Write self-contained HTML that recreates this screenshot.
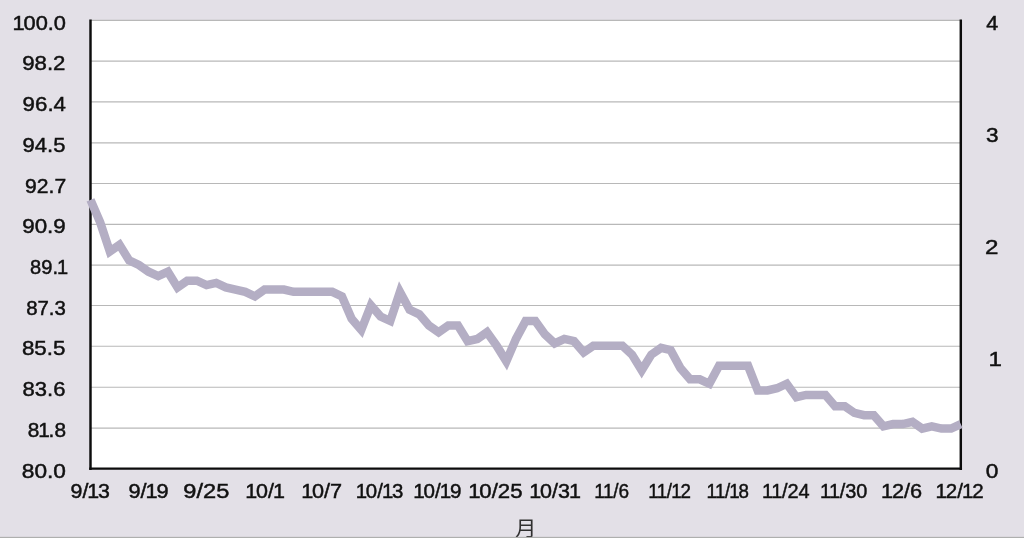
<!DOCTYPE html>
<html lang="ja"><head><meta charset="utf-8"><title>chart</title>
<style>
html,body{margin:0;padding:0;background:#e3e0e7;overflow:hidden}
body{width:1024px;height:538px;position:relative}
svg{display:block;position:absolute;left:0;top:0}
text{font-family:"Liberation Sans","Noto Sans CJK JP",sans-serif;font-size:21.0px;fill:#111111;stroke:#111111;stroke-width:0.48px}
</style></head><body>
<svg width="1024" height="538" viewBox="0 0 1024 538">
<rect x="0" y="0" width="1024" height="538" fill="#e3e0e7"/>
<rect x="90.5" y="20.3" width="870.3" height="448.34999999999997" fill="#ffffff"/>
<line x1="90.5" x2="960.8" y1="20.40" y2="20.40" stroke="#b8b8b8" stroke-width="1.15"/>
<line x1="90.5" x2="960.8" y1="61.15" y2="61.15" stroke="#b8b8b8" stroke-width="1.15"/>
<line x1="90.5" x2="960.8" y1="101.90" y2="101.90" stroke="#b8b8b8" stroke-width="1.15"/>
<line x1="90.5" x2="960.8" y1="142.90" y2="142.90" stroke="#b8b8b8" stroke-width="1.15"/>
<line x1="90.5" x2="960.8" y1="183.50" y2="183.50" stroke="#b8b8b8" stroke-width="1.15"/>
<line x1="90.5" x2="960.8" y1="224.40" y2="224.40" stroke="#b8b8b8" stroke-width="1.15"/>
<line x1="90.5" x2="960.8" y1="265.05" y2="265.05" stroke="#b8b8b8" stroke-width="1.15"/>
<line x1="90.5" x2="960.8" y1="305.50" y2="305.50" stroke="#b8b8b8" stroke-width="1.15"/>
<line x1="90.5" x2="960.8" y1="346.20" y2="346.20" stroke="#b8b8b8" stroke-width="1.15"/>
<line x1="90.5" x2="960.8" y1="387.25" y2="387.25" stroke="#b8b8b8" stroke-width="1.15"/>
<line x1="90.5" x2="960.8" y1="428.10" y2="428.10" stroke="#b8b8b8" stroke-width="1.15"/>
<path d="M90.5 19.400000000000002 V469.9 M960.8 19.400000000000002 V469.9" fill="none" stroke="#0c0c0c" stroke-width="2.45"/><path d="M89.28 468.65 H962.02" fill="none" stroke="#0c0c0c" stroke-width="2.4"/>
<polyline fill="none" stroke="#b4aec4" stroke-width="8.5" stroke-linejoin="miter" stroke-miterlimit="10" points="90.50,199.94 100.17,222.36 109.84,251.50 119.51,244.77 129.18,260.47 138.85,264.95 148.52,271.68 158.19,276.16 167.86,271.68 177.53,287.37 187.20,280.64 196.87,280.64 206.54,285.13 216.21,282.88 225.88,287.37 235.55,289.61 245.22,291.85 254.89,296.34 264.56,289.61 274.23,289.61 283.90,289.61 293.57,291.85 303.24,291.85 312.91,291.85 322.58,291.85 332.25,291.85 341.92,296.34 351.59,318.75 361.26,329.96 370.93,305.30 380.60,316.51 390.27,320.99 399.94,291.85 409.61,309.79 419.28,314.27 428.95,325.48 438.62,332.20 448.29,325.48 457.96,325.48 467.63,341.17 477.30,338.93 486.97,332.20 496.64,345.65 506.31,361.35 515.98,338.93 525.65,320.99 535.32,320.99 544.99,334.44 554.66,343.41 564.33,338.93 574.00,341.17 583.67,352.38 593.34,345.65 603.01,345.65 612.68,345.65 622.35,345.65 632.02,354.62 641.69,370.31 651.36,354.62 661.03,347.90 670.70,350.14 680.37,368.07 690.04,379.28 699.71,379.28 709.38,383.76 719.05,365.83 728.72,365.83 738.39,365.83 748.06,365.83 757.73,390.49 767.40,390.49 777.07,388.25 786.74,383.76 796.41,397.21 806.08,394.97 815.75,394.97 825.42,394.97 835.09,406.18 844.76,406.18 854.43,412.91 864.10,415.15 873.77,415.15 883.44,426.36 893.11,424.11 902.78,424.11 912.45,421.87 922.12,428.60 931.79,426.36 941.46,428.60 951.13,428.60 960.80,424.11"/>
<text transform="translate(13.64,29.70) scale(1.0404,1)" x="0" y="0" dx="-1 -1.2 0 0 0">100.0</text>
<text transform="translate(22.21,70.41) scale(1.0573,1)" x="0" y="0">98.2</text>
<text transform="translate(22.60,111.12) scale(1.0616,1)" x="0" y="0">96.4</text>
<text transform="translate(22.61,151.84) scale(1.0481,1)" x="0" y="0">94.5</text>
<text transform="translate(25.05,192.55) scale(1.0064,1)" x="0" y="0">92.7</text>
<text transform="translate(22.20,233.26) scale(1.0650,1)" x="0" y="0">90.9</text>
<text transform="translate(30.08,273.97) scale(0.9556,1)" x="0" y="0" dx="0 0 0 -1">89.1</text>
<text transform="translate(26.17,314.69) scale(0.9722,1)" x="0" y="0">87.3</text>
<text transform="translate(21.90,355.40) scale(1.0658,1)" x="0" y="0">85.5</text>
<text transform="translate(22.61,396.11) scale(1.0481,1)" x="0" y="0">83.6</text>
<text transform="translate(27.66,436.82) scale(0.9906,1)" x="0" y="0" dx="0 -1 -1.2 0">81.8</text>
<text transform="translate(21.79,477.54) scale(1.0810,1)" x="0" y="0">80.0</text>
<text transform="translate(986.14,29.70) scale(1.0273,1)" x="0" y="0">4</text>
<text transform="translate(986.06,141.79) scale(1.0762,1)" x="0" y="0">3</text>
<text transform="translate(984.94,253.88) scale(1.1500,1)" x="0" y="0">2</text>
<text transform="translate(989.60,365.96) scale(1.1500,1)" x="0" y="0" dx="-1">1</text>
<text transform="translate(985.66,478.05) scale(1.0857,1)" x="0" y="0">0</text>
<text transform="translate(70.49,497.80) scale(1.0188,1)" x="0" y="0" dx="0 0 -1 -1.2">9/13</text>
<text transform="translate(128.42,497.80) scale(1.0362,1)" x="0" y="0" dx="0 0 -1 -1.2">9/19</text>
<text transform="translate(183.26,497.80) scale(1.1266,1)" x="0" y="0">9/25</text>
<text transform="translate(246.34,497.80) scale(1.0248,1)" x="0" y="0" dx="-1 -1.2 0 -1">10/1</text>
<text transform="translate(302.24,497.80) scale(1.0333,1)" x="0" y="0" dx="-1 -1.2 0 0">10/7</text>
<text transform="translate(356.66,497.80) scale(0.9714,1)" x="0" y="0" dx="-1 -1.2 0 -1 -1.2">10/13</text>
<text transform="translate(414.25,497.80) scale(0.9820,1)" x="0" y="0" dx="-1 -1.2 0 -1 -1.2">10/19</text>
<text transform="translate(469.24,497.80) scale(1.0586,1)" x="0" y="0" dx="-1 -1.2 0 0 0">10/25</text>
<text transform="translate(530.34,497.80) scale(1.0251,1)" x="0" y="0" dx="-1 -1.2 0 0 -1">10/31</text>
<text transform="translate(595.27,497.80) scale(0.9068,1)" x="0" y="0" dx="-1 -0.5 -0.5 0">11/6</text>
<text transform="translate(649.18,497.80) scale(0.8940,1)" x="0" y="0" dx="-1 -0.5 -0.5 -1 -1.2">11/12</text>
<text transform="translate(707.28,497.80) scale(0.8918,1)" x="0" y="0" dx="-1 -0.5 -0.5 -1 -1.2">11/18</text>
<text transform="translate(763.06,497.80) scale(0.9505,1)" x="0" y="0" dx="-1 -0.5 -0.5 0 0">11/24</text>
<text transform="translate(820.86,497.80) scale(0.9492,1)" x="0" y="0" dx="-1 -0.5 -0.5 0 0">11/30</text>
<text transform="translate(882.14,497.80) scale(1.0358,1)" x="0" y="0" dx="-1 -1.2 0 0">12/6</text>
<text transform="translate(936.46,497.80) scale(0.9798,1)" x="0" y="0" dx="-1 -1.2 0 -1 -1.2">12/12</text>
<text transform="translate(525.8,535.8) scale(1.07,1.015)" x="0" y="0" text-anchor="middle" style="font-size:20px;fill:#303030;stroke:none">月</text>
<rect x="0" y="536.85" width="1024" height="1.15" fill="#aeafae"/>
</svg></body></html>
